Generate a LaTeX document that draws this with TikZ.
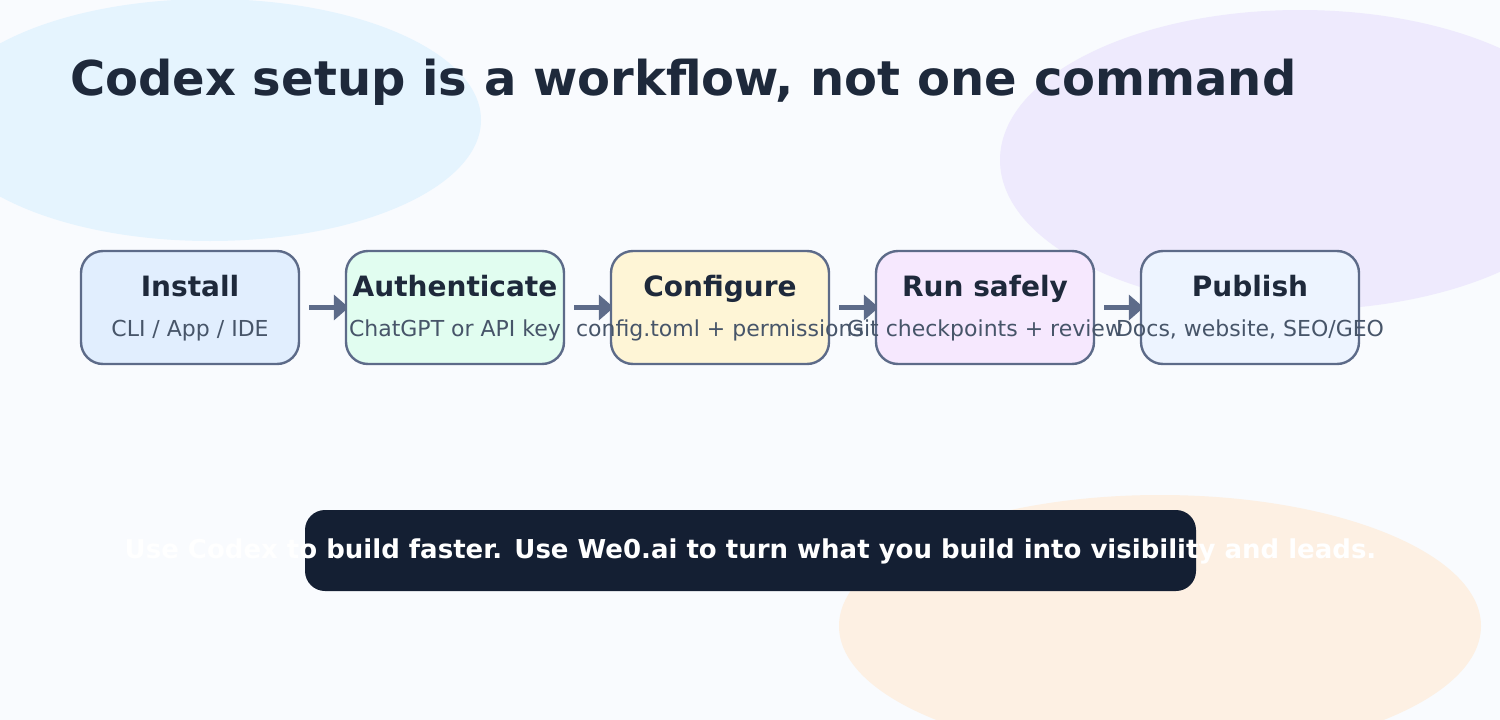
\documentclass[tikz,border=0pt]{standalone}
\usepackage{fontspec}
\setmainfont{DejaVu Sans}
\usetikzlibrary{arrows.meta,backgrounds}
\definecolor{bg}{HTML}{F9FBFE}
\definecolor{blobA}{HTML}{E5F4FE}
\definecolor{blobB}{HTML}{EEEAFD}
\definecolor{blobC}{HTML}{FDF0E3}
\definecolor{ink}{HTML}{1E293B}
\definecolor{sub}{HTML}{475569}
\definecolor{edge}{HTML}{5D6B89}
\definecolor{banner}{HTML}{141F33}
\definecolor{fA}{HTML}{E1EEFE}
\definecolor{fB}{HTML}{E1FDF0}
\definecolor{fC}{HTML}{FEF5D6}
\definecolor{fD}{HTML}{F6E8FE}
\definecolor{fE}{HTML}{EDF4FF}
\tikzset{
  stepbox/.style={draw=edge, line width=2.4pt, rounded corners=22pt, minimum width=218pt, minimum height=113pt, inner sep=0pt},
  steptitle/.style={anchor=base, text=ink, font=\fontsize{28}{32}\selectfont\bfseries, inner sep=0pt},
  stepsub/.style={anchor=base, text=sub, font=\fontsize{22}{26}\selectfont, inner sep=0pt},
  flow/.style={draw=edge, line width=5pt, -{Triangle[length=15pt,width=25pt]}},
}
\begin{document}
\begin{tikzpicture}[x=1pt,y=-1pt]
\useasboundingbox (0,0) rectangle (1500,720);
\begin{scope}[on background layer]
\fill[bg] (0,0) rectangle (1500,720);
\begin{scope}
\clip (0,0) rectangle (1500,720);
\fill[blobA] (210,120) ellipse [x radius=271, y radius=121];
\fill[blobB] (1300,160) ellipse [x radius=300, y radius=150];
\fill[blobC] (1160,626) ellipse [x radius=321, y radius=131];
\end{scope}
\end{scope}
\node[anchor=base west, text=ink, inner sep=0pt, font=\fontsize{48}{56}\selectfont\bfseries] (title) at (70,95) {Codex setup is a workflow, not one command};

\node[stepbox, fill=fA] (s1) at (190,307.5) {};
\node[stepbox, fill=fB] (s2) at (455,307.5) {};
\node[stepbox, fill=fC] (s3) at (720,307.5) {};
\node[stepbox, fill=fD] (s4) at (985,307.5) {};
\node[stepbox, fill=fE] (s5) at (1250,307.5) {};

\foreach \n/\t/\s in {s1/Install/{CLI / App / IDE}, s2/Authenticate/ChatGPT or API key, s3/Configure/config.toml + permissions, s4/Run safely/Git checkpoints + review, s5/Publish/{Docs, website, SEO/GEO}}{
  \node[steptitle] (\n t) at ([yshift=11.5pt]\n.center) {\t};
  \node[stepsub] (\n s) at ([yshift=-28.5pt]\n.center) {\s};
}

\begin{scope}[on background layer]
\foreach \a/\b in {s1/s2, s2/s3, s3/s4, s4/s5}{
  \draw[flow] ([xshift=9pt]\a.east) -- ([xshift=4pt]\b.west);
}
\end{scope}

\node[fill=banner, rounded corners=20pt, minimum width=891pt, minimum height=81pt, inner sep=0pt] (bn) at (750.5,550.5) {};
\node[anchor=base, text=white, inner sep=0pt, font=\fontsize{26}{30}\selectfont\bfseries] (bt) at ([yshift=-8pt]bn.center) {Use Codex to build faster. Use We0.ai to turn what you build into visibility and leads.};
\end{tikzpicture}
\end{document}
